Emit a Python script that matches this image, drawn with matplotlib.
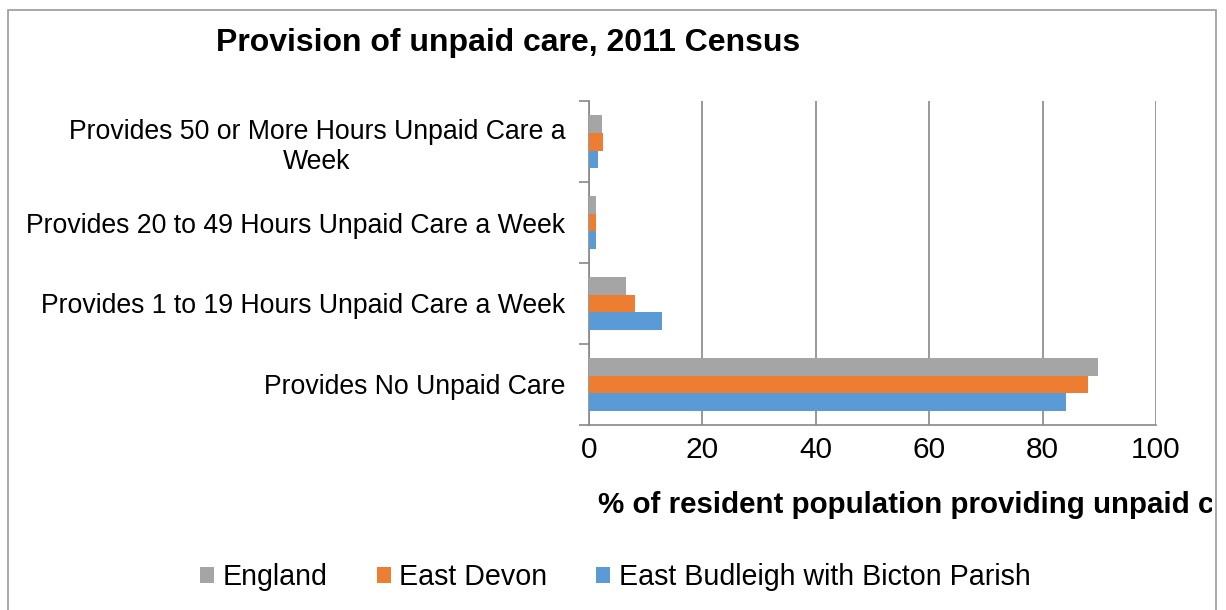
import matplotlib.pyplot as plt
import numpy as np
from matplotlib.patches import Rectangle

plt.rcParams["font.family"] = ["Liberation Sans", "DejaVu Sans"]

categories = [
    "Provides No Unpaid Care",
    "Provides 1 to 19 Hours Unpaid Care a Week",
    "Provides 20 to 49 Hours Unpaid Care a Week",
    "Provides 50 or More Hours Unpaid Care a\nWeek",
]
series_names = ["England", "East Devon", "East Budleigh with Bicton Parish"]
england = [89.8, 6.5, 1.3, 2.3]
east_devon = [88.0, 8.1, 1.3, 2.5]
parish = [84.1, 12.9, 1.2, 1.6]
colors = ["#a5a5a5", "#ed7d31", "#5b9bd5"]

fig = plt.figure(figsize=(12.26, 6.10), dpi=100)
ax = fig.add_axes([0.4804, 0.3033, 0.4625, 0.5311])

y = np.arange(len(categories))
h = 0.222
for i, (vals, name, c) in enumerate(zip([england, east_devon, parish], series_names, colors)):
    ax.barh(y + (1 - i) * h, vals, height=h, color=c, label=name, zorder=3)

ax.set_xlim(0, 100)
ax.set_ylim(-0.5, 3.5)
ax.set_xticks(np.arange(0, 101, 20))
ax.tick_params(axis="x", labelsize=21.5, length=0, pad=8)
ax.set_yticks(y)
ax.set_yticklabels(categories, fontsize=19.2, multialignment="center")
ax.set_yticks(np.arange(-0.5, 3.6, 1), minor=True)
ax.tick_params(axis="y", which="major", length=0, pad=17)
ax.tick_params(axis="y", which="minor", length=7, color="#888888", width=1.2)
ax.grid(axis="x", color="#888888", linewidth=1.2, zorder=0)
for s in ["top", "right"]:
    ax.spines[s].set_visible(False)
for s in ["left", "bottom"]:
    ax.spines[s].set_color("#888888")
    ax.spines[s].set_linewidth(1.2)

fig.text(0.176, 0.93, "Provision of unpaid care, 2011 Census", fontsize=23,
         fontweight="bold", va="center", ha="left")

# the reference cuts this label off at the right border
xl = fig.text(0.4878, 0.172, "% of resident population providing unpaid care",
              fontsize=21.25, fontweight="bold", va="center", ha="left")
clip = Rectangle((0, 0), 1212, 610, transform=None, visible=False)
fig.add_artist(clip)
xl.set_clip_path(clip)

leg = fig.legend(loc="center", bbox_to_anchor=(0.502, 0.054), ncol=3, frameon=False,
                 fontsize=20.6, handlelength=0.5, handleheight=0.5, handletextpad=0.3,
                 columnspacing=1.7)

border = Rectangle((8, -20), 1208, 620, transform=None, fill=False,
                   edgecolor="#999999", linewidth=1.2)
fig.add_artist(border)

fig.savefig("out.png", dpi=100)
